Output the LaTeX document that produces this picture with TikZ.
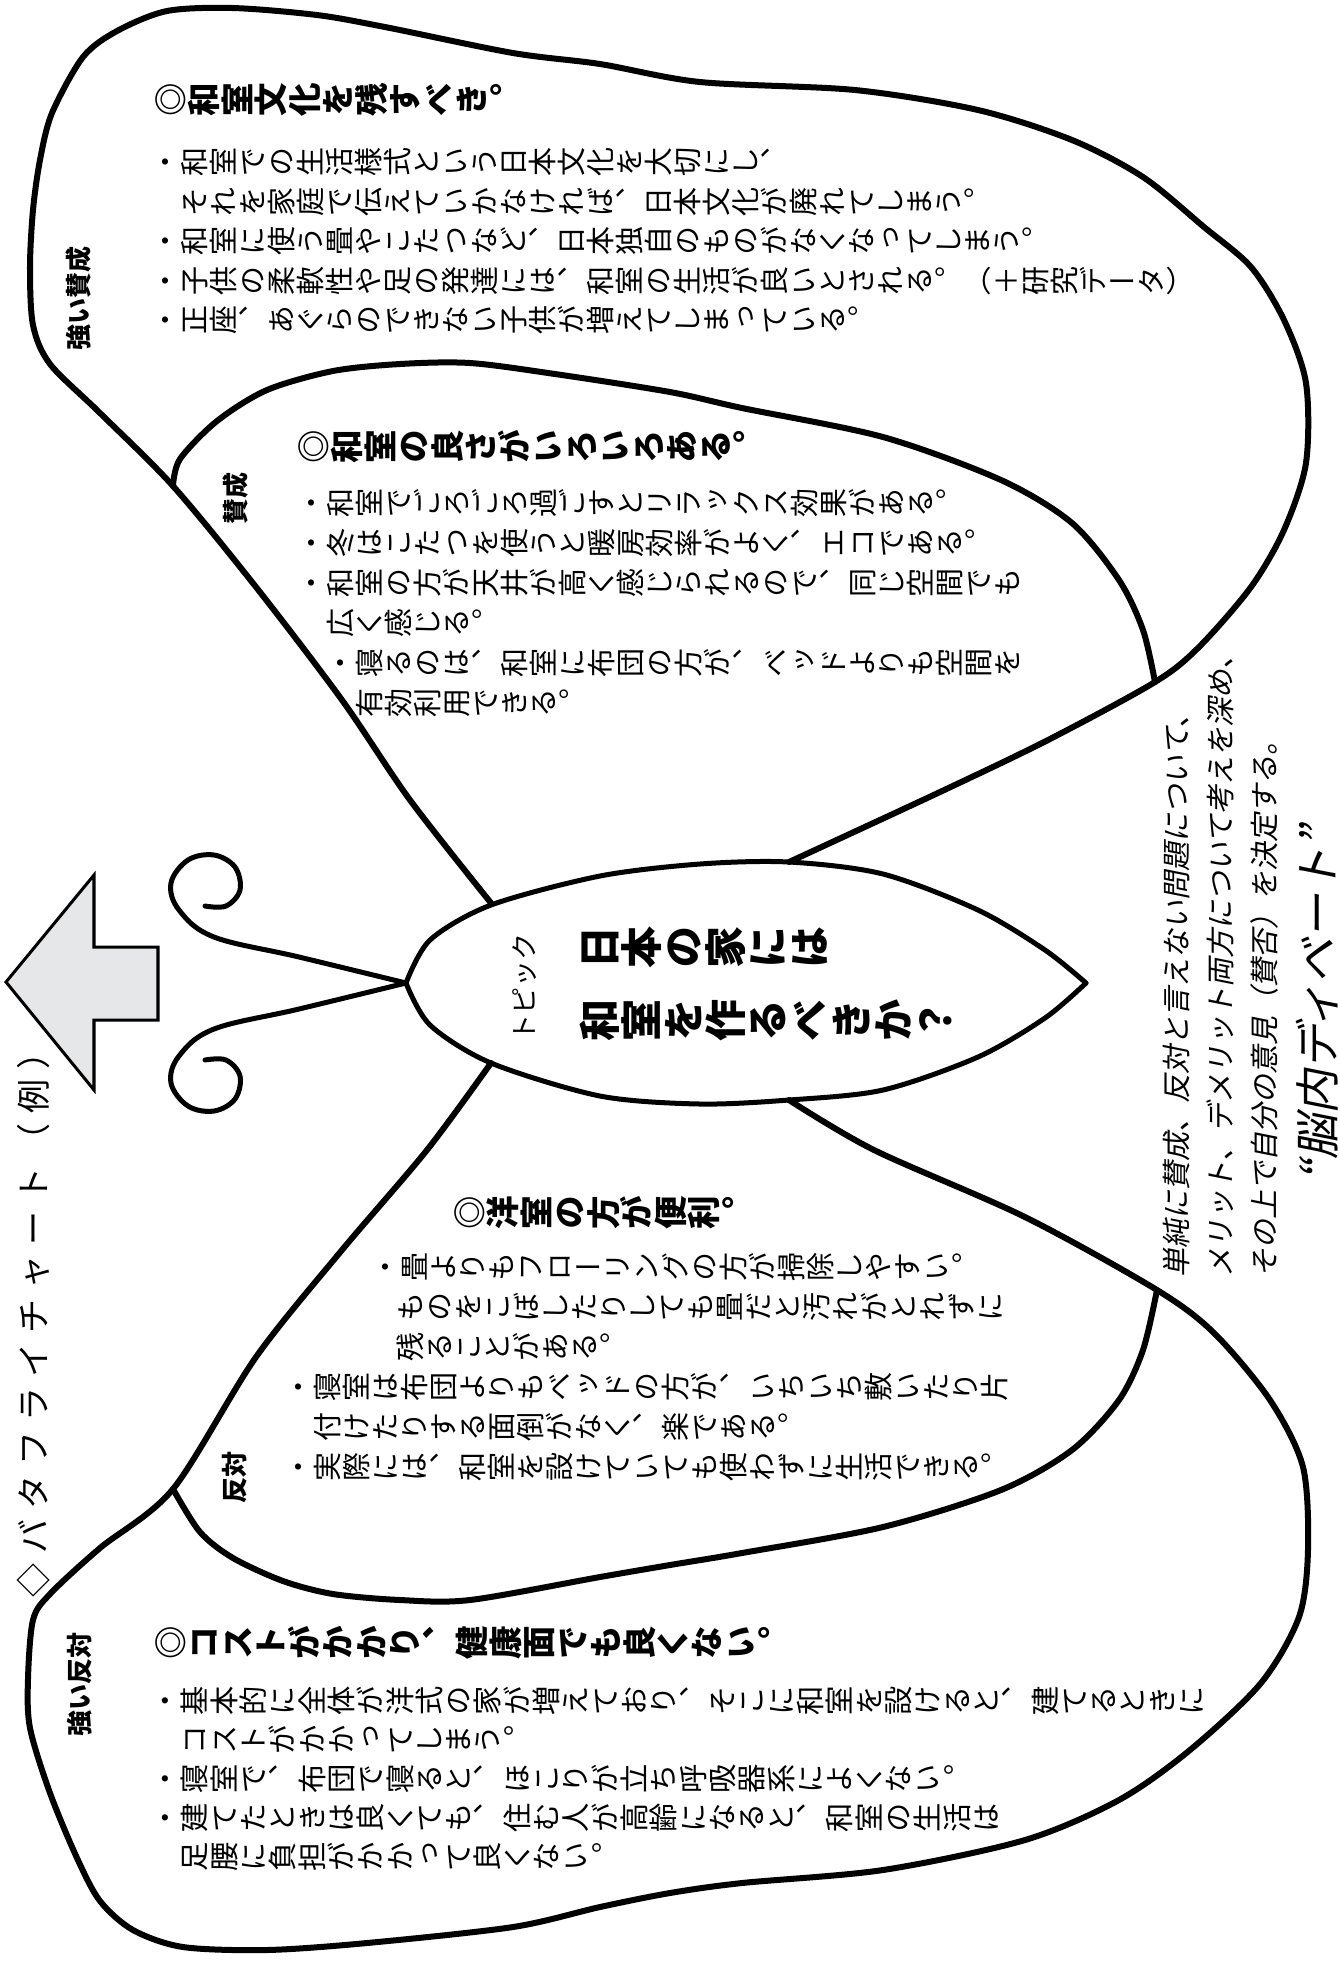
\documentclass[tikz,border=0pt]{standalone}
\usepackage{fontspec}
\usepackage{graphicx}

\newfontfamily\jpfont{Noto Sans CJK JP}
\newfontfamily\tatefont[RawFeature=+vert]{Noto Sans CJK JP}
\newfontfamily\jpslfont[FakeSlant=0.2]{Noto Sans CJK JP}

\definecolor{arrowgray}{RGB}{230,231,232}

% one upright character of vertical writing, turned with the page
\newcommand\tatechar[1]{\rotatebox{90}{\rule[-.12em]{0pt}{1em}\makebox[1em]{#1}}}
\ExplSyntaxOn
\NewDocumentCommand \tate { m }
  { \tl_map_inline:nn {#1} { \tatechar {##1} } }
\NewDocumentCommand \spaced { m m }
  { \tl_map_inline:nn {#2} { \makebox[#1]{##1} } }
\ExplSyntaxOff
% one line of a wing text, with its indent
\newcommand\tline[2][0pt]{\hbox{\hspace*{#1}\tate{#2}}}

\begin{document}
\begin{tikzpicture}[x=0.01cm, y=-0.01cm,
  wing/.style={line width=0.06cm, line join=round, line cap=round},
  bodyline/.style={line width=0.05cm, line join=round, line cap=round},
  tatetext/.style={inner sep=0, anchor=north west},
  tatehead/.style={inner sep=0, anchor=west, font=\tatefont\bfseries\fontsize{0.335cm}{0.4cm}\selectfont},
  sidelabel/.style={rotate=90, inner sep=0, font=\jpfont\bfseries\fontsize{0.26cm}{0.3cm}\selectfont}]

\fill[white] (0,0) rectangle (1340,1962);
\useasboundingbox (0,0) rectangle (1340,1962);

% Upper outer wing
\draw[wing] plot[smooth, tension=0.5] coordinates {(491,903) (410,800) (342,700) (256,587) (173,486) (100,413) (50,364) (33,325) (30,267) (33,210) (40,160) (52,113) (83,57) (117,31) (167,11) (233,8) (317,15) (385,27) (513,53) (600,64) (700,82) (855,90) (978,110) (1072,140) (1143,177) (1204,227) (1251,267) (1284,320) (1306,383) (1306,463) (1284,530) (1251,587) (1199,647) (1155,682) (1048,740) (940,792) (789,862)};

% Upper inner wing
\draw[wing] plot[smooth, tension=0.5] coordinates {(173,486) (180,459) (217,421) (267,390) (333,371) (400,364) (470,363) (555,374) (670,392) (742,408) (883,437) (1001,480) (1072,523) (1119,580) (1143,630) (1155,682)};

% Lower outer wing
\draw[wing] plot[smooth, tension=0.5] coordinates {(491,1063) (427,1150) (342,1250) (256,1357) (173,1489) (100,1548) (50,1594) (33,1620) (28,1679) (30,1728) (50,1793) (77,1858) (100,1901) (133,1930) (183,1947) (267,1950) (367,1943) (513,1927) (600,1907) (670,1893) (742,1883) (883,1870) (1025,1840) (1119,1800) (1190,1750) (1261,1683) (1299,1617) (1308,1550) (1303,1467) (1270,1400) (1214,1333) (1157,1290) (1025,1217) (874,1150) (789,1100)};

% Lower inner wing
\draw[wing] plot[smooth, tension=0.5] coordinates {(173,1489) (200,1532) (233,1558) (283,1581) (333,1594) (400,1600) (470,1600) (600,1577) (670,1565) (742,1553) (883,1527) (1001,1490) (1072,1450) (1119,1400) (1143,1350) (1157,1290)};

% Body
\draw[bodyline] plot[smooth, tension=0.5] coordinates {(406,983) (430,940) (491,905) (600,876) (700,864) (789,862) (883,874) (978,910) (1045,950) (1086,983)};
\draw[bodyline] plot[smooth, tension=0.5] coordinates {(1086,983) (1045,1018) (978,1057) (883,1090) (789,1100) (700,1104) (600,1096) (491,1063) (430,1025) (406,983)};

% Antennae
\draw[bodyline] plot[smooth, tension=0.6] coordinates {(406,983) (299,957) (214,937) (179,910) (171,883) (188,860) (214,855) (235,867) (240,890) (226,906) (205,906)};
\draw[bodyline] plot[smooth, tension=0.6] coordinates {(406,983) (299,1009) (214,1029) (179,1056) (171,1083) (188,1106) (214,1111) (235,1099) (240,1076) (226,1060) (205,1060)};

% Arrow
\draw[line width=0.03cm, fill=arrowgray] (6,982) -- (94,875) -- (94,947) -- (158,947) -- (158,1020) -- (94,1020) -- (94,1090) -- cycle;

% Title
\node[rotate=90, inner sep=0, anchor=west, font=\jpfont\fontsize{0.34cm}{0.4cm}\selectfont] (charttitle) at (34,1603) {\spaced{0.44cm}{◇バタフライチャート（例）}};

% Wing labels
\node[sidelabel] (tsuyoisanseilabel) at (79,298) {強い賛成};
\node[sidelabel] (sanseilabel) at (236,498) {賛成};
\node[sidelabel] (hantailabel) at (235,1477) {反対};
\node[sidelabel] (tsuyoihantailabel) at (80,1684) {強い反対};

% Strong agree
\node[tatehead] (tsuyoisanseihead) at (153,100) {\tate{◎和室文化を残すべき。}};
\node[tatetext, font=\tatefont\fontsize{0.29cm}{0.395cm}\selectfont] (tsuyoisanseitext) at (150,147) {\vbox{%
\tline{・和室での生活様式という日本文化を大切にし、}
\tline[1em]{それを家庭で伝えていかなければ、日本文化が廃れてしまう。}
\tline{・和室に使う畳やこたつなど、日本独自のものがなくなってしまう。}
\tline{・子供の柔軟性や足の発達には、和室の生活が良いとされる。（＋研究データ）}
\tline{・正座、あぐらのできない子供が増えてしまっている。}}};

% Agree
\node[tatehead] (sanseihead) at (296,447) {\tate{◎和室の良さがいろいろある。}};
\node[tatetext, font=\tatefont\fontsize{0.29cm}{0.40cm}\selectfont] (sanseitext) at (296,488) {\vbox{%
\tline{・和室でごろごろ過ごすとリラックス効果がある。}
\tline{・冬はこたつを使うと暖房効率がよく、エコである。}
\tline{・和室の方が天井が高く感じられるので、同じ空間でも}
\tline[1em]{広く感じる。}
\tline[1em]{・寝るのは、和室に布団の方が、ベッドよりも空間を}
\tline[2em]{有効利用できる。}}};

% Topic
\node[rotate=90, inner sep=0, font=\jpfont\fontsize{0.27cm}{0.3cm}\selectfont] (topiclabel) at (525,987) {トピック};
\node[tatetext, font=\tatefont\bfseries\fontsize{0.42cm}{0.73cm}\selectfont] (topictext) at (578,926) {\vbox{%
\tline{日本の家には}
\tline{和室を作るべきか？}}};

% Disagree
\node[tatehead] (hantaihead) at (452,1213) {\tate{◎洋室の方が便利。}};
\node[tatetext, font=\tatefont\fontsize{0.29cm}{0.40cm}\selectfont] (hantaitext) at (283,1252) {\vbox{%
\tline[0.87cm]{・畳よりもフローリングの方が掃除しやすい。}
\tline[1.12cm]{ものをこぼしたりしても畳だと汚れがとれずに}
\tline[1.12cm]{残ることがある。}
\tline{・寝室は布団よりもベッドの方が、いちいち敷いたり片}
\tline[1em]{付けたりする面倒がなく、楽である。}
\tline{・実際には、和室を設けていても使わずに生活できる。}}};

% Strong disagree
\node[tatehead] (tsuyoihantaihead) at (153,1643) {\tate{◎コストがかかり、健康面でも良くない。}};
\node[tatetext, font=\tatefont\fontsize{0.293cm}{0.392cm}\selectfont] (tsuyoihantaitext) at (150,1685) {\vbox{%
\tline{・基本的に全体が洋式の家が増えており、そこに和室を設けると、建てるときに}
\tline[1em]{コストがかかってしまう。}
\tline{・寝室で、布団で寝ると、ほこりが立ち呼吸器系によくない。}
\tline{・建てたときは良くても、住む人が高齢になると、和室の生活は}
\tline[1em]{足腰に負担がかかって良くない。}}};

% Note on the right
\node[rotate=90, inner sep=0, anchor=north west, align=left, font=\jpslfont\fontsize{0.29cm}{0.44cm}\selectfont] (debatenote) at (1162,1278) {%
単純に賛成、反対と言えない問題について、\\
メリット、デメリット両方について考えを深め、\\
その上で自分の意見（賛否）を決定する。};
\node[rotate=90, inner sep=0, anchor=west, font=\jpslfont\fontsize{0.45cm}{0.5cm}\selectfont] (debatename) at (1317,1182) {“脳内ディベート”};

\end{tikzpicture}
\end{document}
